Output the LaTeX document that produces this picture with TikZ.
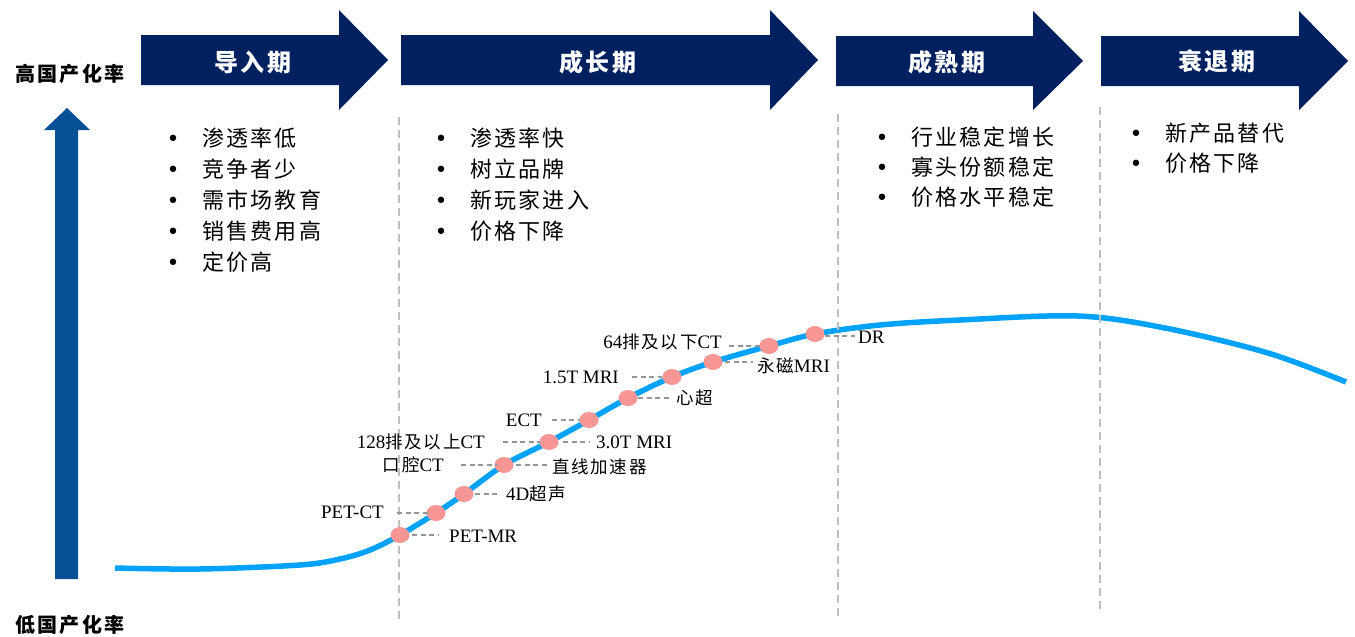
\documentclass[tikz,border=0pt]{standalone}
\usepackage{fontspec}
\setmainfont{Liberation Serif}
\newfontfamily\cjk{Noto Sans CJK SC}
\newfontfamily\cjkls{Noto Sans CJK SC}[LetterSpace=10]
\newfontfamily\cjkhd{Noto Sans CJK SC}[LetterSpace=12]
\newfontfamily\dejavu{DejaVu Sans}
\usetikzlibrary{shapes.geometric}
\definecolor{navy}{RGB}{0,32,96}
\definecolor{sideblue}{RGB}{6,80,150}
\definecolor{cblue}{RGB}{0,162,250}
\definecolor{dpink}{RGB}{248,150,150}
\definecolor{vgray}{RGB}{191,191,191}
\definecolor{cgray}{RGB}{150,150,150}
\newcommand\lc[1]{{\fontsize{17.5}{22}\selectfont\cjkls #1}}
\newcommand\bul{\makebox[58pt][c]{\dejavu\fontsize{22}{30}\selectfont •}}
\begin{document}
\begin{tikzpicture}[x=1pt,y=-1pt,
  phase/.style={fill=navy,draw=none},
  headtxt/.style={text=white,font=\fontsize{24}{28}\selectfont\cjkhd\bfseries,inner sep=0pt},
  sidetxt/.style={font=\fontsize{20}{24}\selectfont\cjkhd\bfseries,inner sep=0pt},
  blist/.style={align=left,anchor=north west,inner sep=0pt},
  vline/.style={draw=vgray,line width=2.5pt,dash pattern=on 8pt off 5pt},
  curve/.style={draw=cblue,line width=5.5pt},
  dot/.style={ellipse,fill=dpink,minimum width=19pt,minimum height=16pt,inner sep=0pt},
  lbl/.style={font=\fontsize{19}{22}\selectfont,inner sep=0pt},
  conn/.style={draw=cgray,line width=1.2pt,dash pattern=on 5pt off 3.5pt}]
\fill[white] (0,0) rectangle (1355,637);
\path[use as bounding box] (0,0) rectangle (1355,637);

% phase arrows
\fill[phase] (141,35) -- (339,35) -- (339,10) -- (388,60) -- (339,110) -- (339,85) -- (141,85) -- cycle;
\fill[phase] (401,35) -- (770,35) -- (770,10) -- (818,60) -- (770,110) -- (770,85) -- (401,85) -- cycle;
\fill[phase] (836,36) -- (1033,36) -- (1033,11) -- (1083,61) -- (1033,110) -- (1033,86) -- (836,86) -- cycle;
\fill[phase] (1101,36) -- (1299,36) -- (1299,11) -- (1348,61) -- (1299,110) -- (1299,86) -- (1101,86) -- cycle;
\node[headtxt] (h1) at (253,62) {导入期};
\node[headtxt] (h2) at (598,62) {成长期};
\node[headtxt] (h3) at (947,62) {成熟期};
\node[headtxt] (h4) at (1217,61) {衰退期};

% side arrow
\fill[sideblue] (55,579) -- (55,130) -- (44,130) -- (67,108) -- (90,130) -- (78,130) -- (78,579) -- cycle;
\node[sidetxt] (hi) at (70,74) {高国产化率};
\node[sidetxt] (lo) at (70,625) {低国产化率};

% bullet lists
\node[blist,font=\fontsize{22}{31}\selectfont\cjkls] (l1) at (144,128) {\bul 渗透率低\\\bul 竞争者少\\\bul 需市场教育\\\bul 销售费用高\\\bul 定价高};
\node[blist,font=\fontsize{22}{31}\selectfont\cjkls] (l2) at (412,128) {\bul 渗透率快\\\bul 树立品牌\\\bul 新玩家进入\\\bul 价格下降};
\node[blist,font=\fontsize{22}{30}\selectfont\cjkls] (l3) at (853,127) {\bul 行业稳定增长\\\bul 寡头份额稳定\\\bul 价格水平稳定};
\node[blist,font=\fontsize{22}{30}\selectfont\cjkls] (l4) at (1107,123) {\bul 新产品替代\\\bul 价格下降};

% curve
\draw[curve] plot[smooth,tension=0.55] coordinates {(115,568) (200,569) (300,565) (340,559) (370,550) (400,535) (436,513) (464,494) (504,465) (549,442) (589,420) (628,398) (672,377) (713,362) (769,346) (815,334) (880,325) (960,320) (1078,316) (1165,328) (1268,353) (1346,382)};

% vertical dashed lines
\draw[vline] (399,117) -- (399,620);
\draw[vline] (838,114) -- (838,620);
\draw[vline] (1100,107) -- (1100,612);

% dots
\node[dot] (d1) at (400,535) {};
\node[dot] (d2) at (436,513) {};
\node[dot] (d3) at (464,494) {};
\node[dot] (d4) at (504,465) {};
\node[dot] (d5) at (549,442) {};
\node[dot] (d6) at (589,420) {};
\node[dot] (d7) at (628,398) {};
\node[dot] (d8) at (672,377) {};
\node[dot] (d9) at (713,362) {};
\node[dot] (d10) at (769,346) {};
\node[dot] (d11) at (815,334) {};

% labels
\node[lbl,anchor=west] (pmr) at (449,536) {PET-MR};
\node[lbl,anchor=east] (pct) at (384,512) {PET-CT};
\node[lbl,anchor=west] (us4) at (506,494) {4D\lc{超声}};
\node[lbl,anchor=east] (kq) at (444,465) {\lc{口腔}CT};
\node[lbl,anchor=west] (zx) at (552,467) {\lc{直线加速器}};
\node[lbl,anchor=east] (c128) at (485,442) {128\lc{排及以上}CT};
\node[lbl,anchor=west] (m30) at (596,442) {3.0T MRI};
\node[lbl,anchor=east] (ect) at (542,420) {ECT};
\node[lbl,anchor=west] (xc) at (676,398) {\lc{心超}};
\node[lbl,anchor=east] (m15) at (619,377) {1.5T MRI};
\node[lbl,anchor=west] (ycm) at (757,366) {\lc{永磁}MRI};
\node[lbl,anchor=east] (c64) at (722,342) {64\lc{排及以下}CT};
\node[lbl,anchor=west] (dr) at (858,337) {DR};

% connectors
\draw[conn,shorten <=12pt,shorten >=11pt] (d1.center) -- (d1.center -| pmr.west);
\draw[conn,shorten <=13pt,shorten >=8pt] (pct.east |- d2.center) -- (d2.center);
\draw[conn,shorten <=11pt,shorten >=6pt] (d3.center) -- (d3.center -| us4.west);
\draw[conn,shorten <=17pt,shorten >=7pt] (kq.east |- d4.center) -- (d4.center);
\draw[conn,shorten <=12pt,shorten >=5pt] (d4.center) -- (d4.center -| zx.west);
\draw[conn,shorten <=18pt,shorten >=9pt] (c128.east |- d5.center) -- (d5.center);
\draw[conn,shorten <=14pt,shorten >=6pt] (d5.center) -- (d5.center -| m30.west);
\draw[conn,shorten <=10pt,shorten >=9pt] (ect.east |- d6.center) -- (d6.center);
\draw[conn,shorten <=10pt,shorten >=6pt] (d7.center) -- (d7.center -| xc.west);
\draw[conn,shorten <=13pt,shorten >=10pt] (m15.east |- d8.center) -- (d8.center);
\draw[conn,shorten <=12pt,shorten >=4pt] (d9.center) -- (d9.center -| ycm.west);
\draw[conn,shorten <=7pt,shorten >=9pt] (c64.east |- d10.center) -- (d10.center);
\draw[conn,shorten <=10pt,shorten >=3pt] ([yshift=-2pt]d11.center) -- ([yshift=-2pt]d11.center -| dr.west);
\end{tikzpicture}
\end{document}
